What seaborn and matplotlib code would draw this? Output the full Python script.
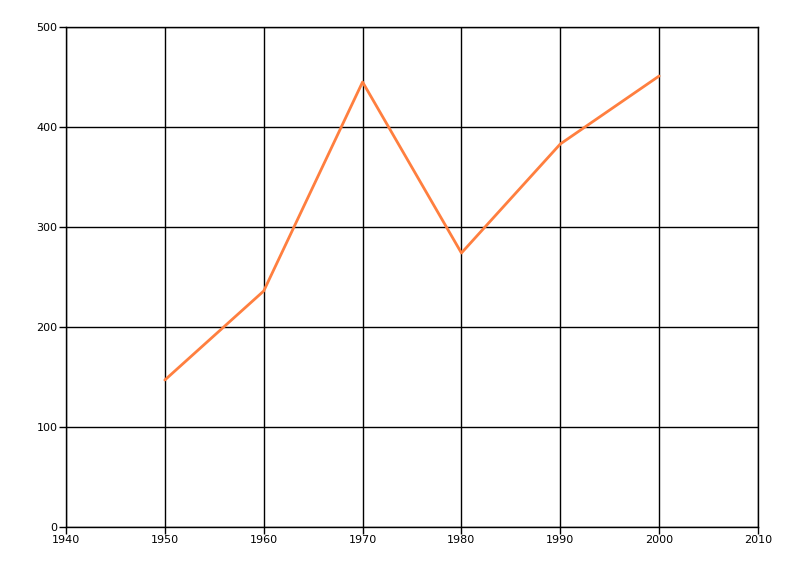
import matplotlib
matplotlib.use("Agg")
import matplotlib.pyplot as plt
import seaborn as sns
import pandas as pd

years = [1950, 1960, 1970, 1980, 1990, 2000]
values = [147, 236, 445, 274, 383, 451]

df = pd.DataFrame({"year": years, "value": values})

sns.set_style("white")
plt.rcParams['font.family'] = ['DejaVu Sans']

fig = plt.figure(figsize=(8, 5.76), dpi=100)
ax = fig.add_axes([66 / 800, 49 / 576, 692 / 800, 500 / 576])

sns.lineplot(data=df, x="year", y="value", color="#ff7f3f", linewidth=2, ax=ax)

ax.set_xlim(1940, 2010)
ax.set_ylim(0, 500)
ax.set_xticks(range(1940, 2011, 10))
ax.set_yticks(range(0, 501, 100))
ax.grid(True, color="black", linewidth=1)
ax.set_axisbelow(True)
ax.set_xlabel("")
ax.set_ylabel("")
# outer box drawn in black like the grid lines
for side in ["top", "right", "left", "bottom"]:
    ax.spines[side].set_visible(True)
    ax.spines[side].set_color("black")
    ax.spines[side].set_linewidth(1)
ax.tick_params(axis="both", which="both", length=5, width=1, color="black",
               labelcolor="black", labelsize=8, pad=1, direction="out",
               bottom=True, left=True)

fig.savefig("out.png", dpi=100)
